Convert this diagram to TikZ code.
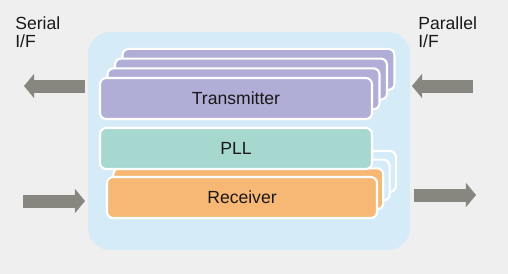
\documentclass[tikz,border=0pt]{standalone}
\usepackage{fontspec}
\setmainfont{Liberation Sans}
\usepackage{tikz}
\usetikzlibrary{positioning, arrows.meta}
\definecolor{fondoGris}{HTML}{EFEFEF}
\definecolor{chipAzul}{HTML}{D5EBF7}
\definecolor{txMorado}{HTML}{B0AED6}
\definecolor{pllVerde}{HTML}{A6D8D0}
\definecolor{rxNaranja}{HTML}{F6B874}
\definecolor{flechaGris}{HTML}{87877F}
\definecolor{texto}{HTML}{1A1718}

\begin{document}
\begin{tikzpicture}[
  x=0.02cm, y=-0.02cm,
  font=\fontsize{10}{10.6}\selectfont,
  blk/.style={draw=white, line width=1.2pt, rounded corners=3.5pt,
              minimum width=5.44cm, minimum height=0.82cm, inner sep=0pt, text=texto},
  bus/.style={flechaGris, line width=7.4pt,
              -{Triangle[length=5.8pt, width=14pt, line width=0pt]}}
]
  % Fondo y marco
  \fill[fondoGris] (0,0) rectangle (508,274);
  \node[fill=chipAzul, rounded corners=12.5pt, minimum width=6.44cm,
        minimum height=4.36cm, inner sep=0pt] (chip) at (249,141) {};

  % --- Pila del transmisor (capas traseras primero) ---
  \foreach \k in {3,2,1}
    \node[blk, fill=txMorado] (tx\k) at ({236+7.5*\k}, {98.5-9.7*\k}) {};
  \node[blk, fill=txMorado] (tx) at (236,98.5) {Transmitter};

  % --- Pila del receptor ---
  \node[blk, fill=chipAzul, minimum width=5.40cm] (rx3) at ({242+6.3*3}, {197.5-8.7*3}) {};
  \node[blk, fill=chipAzul, minimum width=5.40cm] (rx2) at ({242+6.3*2}, {197.5-8.7*2}) {};
  \node[blk, fill=rxNaranja, minimum width=5.40cm] (rx1) at ({242+6.3}, {197.5-8.7}) {};
  \node[blk, fill=rxNaranja, minimum width=5.40cm] (rx) at (242,197.5) {Receiver};

  % PLL encima de las capas del receptor
  \node[blk, fill=pllVerde] (pll) at (236,148.5) {PLL};

  % --- Etiquetas de interfaz ---
  \node[anchor=north west, align=left, inner sep=0pt, text=texto] (serial) at (15,16) {Serial\\I/F};
  \node[anchor=north west, align=left, inner sep=0pt, text=texto] (parallel) at (418,16) {Parallel\\I/F};

  % --- Flechas ---
  \coordinate (serOutA) at (85,86);
  \coordinate (serOutB) at (24,86);
  \coordinate (parInA)  at (473,86);
  \coordinate (parInB)  at (412,86);
  \coordinate (serInA)  at (23,201);
  \coordinate (serInB)  at (85,201);
  \coordinate (parOutA) at (414,195);
  \coordinate (parOutB) at (476,195);

  \draw[bus] (serOutA) -- (serOutB);
  \draw[bus] (parInA) -- (parInB);
  \draw[bus] (serInA) -- (serInB);
  \draw[bus] (parOutA) -- (parOutB);
\end{tikzpicture}
\end{document}
